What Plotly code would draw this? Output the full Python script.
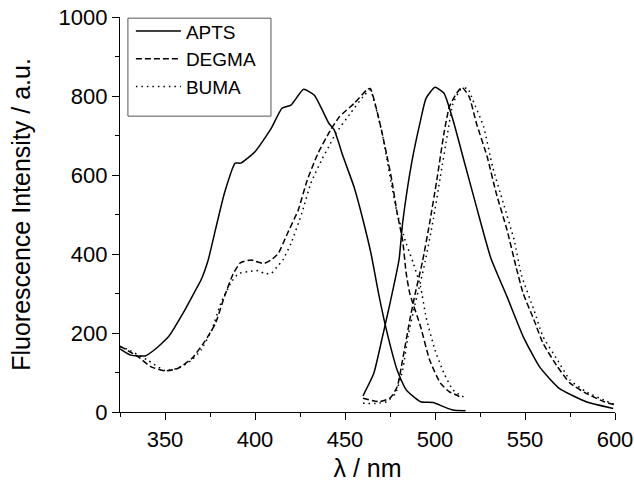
import plotly.graph_objects as go

# excitation (left) and emission (right) spectra
apts_ex_x = [325, 326, 331, 339, 344, 352, 361, 368, 370, 374, 378, 383, 389, 392, 400, 409,
             415, 420, 427, 433, 437, 441, 444, 449, 455, 460, 464.5, 469, 473, 479,
             484, 492, 499, 505, 510, 517]
apts_ex_y = [160, 157, 144, 142, 157, 191, 258, 317, 334, 385, 461, 554, 630, 630, 659, 718,
             769, 777, 817, 802, 768, 731, 714, 646, 570, 486, 400, 292, 208, 106,
             56, 26, 24, 13, 5, 3]
apts_em_x = [460, 466, 470, 475, 480, 482, 487, 492, 495, 500, 505, 510, 516, 523,
             531, 540, 549, 558, 569, 584, 599]
apts_em_y = [41, 98, 174, 275, 385, 478, 630, 739, 794, 822, 807, 739, 638, 520,
             390, 292, 191, 115, 60, 26, 9]

degma_ex_x = [325, 335, 342, 350, 357, 365, 372, 378, 383, 388, 392, 398, 400, 405, 409,
              413, 418, 424, 429, 435, 442, 447, 455, 462, 464, 469, 473, 476, 479, 482,
              484, 486, 492, 497, 503, 508, 512, 515]
degma_ex_y = [167, 140, 115, 104, 110, 136, 178, 224, 292, 351, 378, 385, 382, 376, 385,
              402, 452, 511, 587, 655, 714, 748, 781, 815, 819, 739, 655, 587, 503, 435,
              351, 300, 216, 132, 73, 51, 43, 35]
degma_em_x = [460, 469, 475, 479, 482, 486, 489, 493, 497, 501, 505, 508, 512, 515,
              519, 523, 529, 534, 540, 545, 549, 555, 560, 568, 575, 584, 594, 600]
degma_em_y = [35, 26, 35, 64, 132, 233, 300, 380, 478, 587, 706, 773, 807, 822,
              798, 731, 646, 554, 461, 368, 300, 233, 174, 115, 73, 47, 26, 18]

buma_ex_x = [325, 329, 340, 350, 358, 365, 370, 376, 381, 387, 391, 396, 402, 405, 409,
             413, 415, 420, 426, 431, 437, 441, 445, 453, 460, 464, 467, 471, 475, 479,
             484, 488, 492, 495, 500, 505, 510, 517]
buma_ex_y = [165, 159, 132, 105, 112, 132, 157, 208, 275, 330, 351, 355, 358, 351, 351,
             372, 381, 427, 503, 579, 638, 672, 706, 756, 798, 815, 773, 697, 596, 503,
             427, 376, 317, 241, 157, 98, 56, 35]
buma_em_x = [460, 468, 473, 478, 482, 485, 489, 492, 494.5, 499, 503, 507, 510, 514, 518,
             521, 527, 532, 538, 544, 548, 555, 560, 568, 575, 584, 594, 600]
buma_em_y = [22, 22, 26, 47, 106, 191, 275, 330, 380, 486, 596, 706, 781, 815, 820,
             790, 722, 621, 528, 435, 347, 258, 191, 132, 81, 51, 30, 18]

names = ["APTS", "DEGMA", "BUMA"]
dashes = ["solid", "6px,3px", "1.5px,4px"]
series = [(apts_ex_x, apts_ex_y, apts_em_x, apts_em_y),
          (degma_ex_x, degma_ex_y, degma_em_x, degma_em_y),
          (buma_ex_x, buma_ex_y, buma_em_x, buma_em_y)]

font = "Liberation Sans, Arial, sans-serif"
fig = go.Figure()
for name, dash, (ex_x, ex_y, em_x, em_y) in zip(names, dashes, series):
    # one trace per sample; None splits excitation from emission
    fig.add_trace(go.Scatter(
        x=ex_x + [None] + em_x, y=ex_y + [None] + em_y, name=name, mode="lines",
        connectgaps=False,
        line=dict(color="black", width=1.5, dash=dash, shape="spline", smoothing=0.5)))

axis = dict(showline=True, linecolor="black", linewidth=1.3, ticks="outside", ticklen=7,
            tickwidth=1.3, tickcolor="black", showgrid=False, zeroline=False, automargin=False,
            tickfont=dict(size=22, color="black", family=font), mirror=False)
fig.update_xaxes(axis, range=[325, 600], dtick=50, tick0=350,
                 minor=dict(ticks="outside", ticklen=4, dtick=25, tick0=325, tickcolor="black"),
                 title=dict(text="λ / nm", font=dict(size=25, color="black", family=font), standoff=10))
fig.update_yaxes(axis, range=[0, 1000], dtick=200,
                 minor=dict(ticks="outside", ticklen=4, dtick=100, tickcolor="black"),
                 title=dict(text="Fluorescence Intensity / a.u.",
                            font=dict(size=25, color="black", family=font), standoff=20))

# legend frame drawn as a shape so it can be taller than the entries
fig.add_shape(type="rect", xref="paper", yref="paper", x0=0.016, x1=0.305, y0=0.749, y1=0.997,
              line=dict(color="#555555", width=1), fillcolor="rgba(0,0,0,0)")

fig.update_layout(
    width=634, height=482, margin=dict(l=120, r=19, t=17, b=70),
    plot_bgcolor="white", paper_bgcolor="white",
    font=dict(family=font, color="black"),
    legend=dict(x=0.022, y=1.012, xanchor="left", yanchor="top", bgcolor="rgba(0,0,0,0)",
                font=dict(size=19, color="black", family=font), itemwidth=45,
                tracegroupgap=0, borderwidth=0),
    showlegend=True,
)
# drop the default page margin so the figure sits at the window's corner
fig.write_html("out.html", config={"displayModeBar": False},
               post_script="document.body.style.margin='0px';")
